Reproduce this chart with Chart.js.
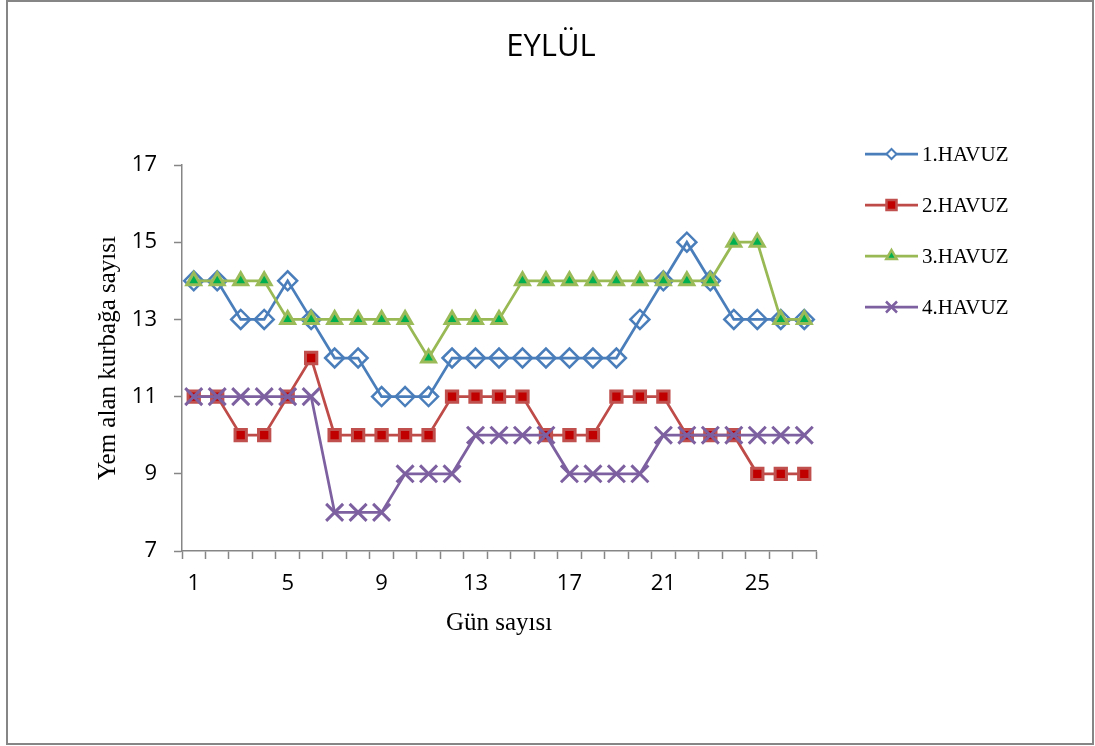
<!DOCTYPE html>
<html>
<head>
<meta charset="utf-8">
<title>EYLÜL</title>
<script src="https://cdn.jsdelivr.net/npm/chart.js@4/dist/chart.umd.min.js"></script>
<style>
  html, body { margin: 0; padding: 0; background: #ffffff; }
  canvas { display: block; }
</style>
</head>
<body>
<canvas id="chart" width="1095" height="746"></canvas>
<script>
// Days of September (category axis)
const days = ['1','2','3','4','5','6','7','8','9','10','11','12','13','14','15','16','17','18','19','20','21','22','23','24','25','26','27'];

// Number of frogs taking feed, per pond
const havuz1 = [14,14,13,13,14,13,12,12,11,11,11,12,12,12,12,12,12,12,12,13,14,15,14,13,13,13,13];
const havuz2 = [11,11,10,10,11,12,10,10,10,10,10,11,11,11,11,10,10,10,11,11,11,10,10,10,9,9,9];
const havuz3 = [14,14,14,14,13,13,13,13,13,13,12,13,13,13,14,14,14,14,14,14,14,14,14,15,15,13,13];
const havuz4 = [11,11,11,11,11,11,8,8,8,9,9,9,10,10,10,10,9,9,9,9,10,10,10,10,10,10,10];

const seriesNames = ['1.HAVUZ', '2.HAVUZ', '3.HAVUZ', '4.HAVUZ'];
const xTickLabels = ['1', '5', '9', '13', '17', '21', '25'];
const yTickValues = [7, 9, 11, 13, 15, 17];

const chartTitle = 'EYLÜL';
const xTitle = 'Gün sayısı';
const yTitle = 'Yem alan kurbağa sayısı';

const AXIS_GRAY = '#868686';
const SERIF = '"Liberation Serif", "Times New Roman", serif';
const SANS = '"Open Sans", "Noto Sans", sans-serif';

// Small marker drawn next to each legend entry
function drawLegendMarker(ctx, ds, x, y) {
  ctx.save();
  ctx.lineWidth = 2;
  ctx.strokeStyle = ds.pointBorderColor;
  ctx.fillStyle = ds.pointBackgroundColor;
  ctx.beginPath();
  if (ds.pointStyle === 'rectRot') {
    const r = 5;
    ctx.moveTo(x - r, y); ctx.lineTo(x, y - r); ctx.lineTo(x + r, y); ctx.lineTo(x, y + r);
    ctx.closePath();
    ctx.fillStyle = '#ffffff';
    ctx.fill(); ctx.stroke();
  } else if (ds.pointStyle === 'rect') {
    const h = 5;
    ctx.rect(x - h, y - h, 2 * h, 2 * h);
    ctx.fill(); ctx.lineWidth = 2.5; ctx.stroke();
  } else if (ds.pointStyle === 'triangle') {
    const r = 6;
    ctx.moveTo(x, y - r);
    ctx.lineTo(x + r * 0.866, y + r * 0.5);
    ctx.lineTo(x - r * 0.866, y + r * 0.5);
    ctx.closePath();
    ctx.fill(); ctx.lineWidth = 2.5; ctx.stroke();
  } else if (ds.pointStyle === 'crossRot') {
    const d = 5.5;
    ctx.moveTo(x - d, y - d); ctx.lineTo(x + d, y + d);
    ctx.moveTo(x + d, y - d); ctx.lineTo(x - d, y + d);
    ctx.lineWidth = 2.5; ctx.stroke();
  }
  ctx.restore();
}

// Frame, title and legend of the chart panel
const panelPlugin = {
  id: 'panel',
  beforeDraw(chart) {
    const ctx = chart.ctx;
    ctx.save();
    ctx.fillStyle = '#ffffff';
    ctx.fillRect(0, 0, chart.width, chart.height);
    ctx.strokeStyle = AXIS_GRAY;
    ctx.lineWidth = 2;
    ctx.strokeRect(7, 1, 1086, 743);
    ctx.restore();
  },
  afterDraw(chart) {
    const ctx = chart.ctx;
    ctx.save();
    // title
    ctx.fillStyle = '#000000';
    ctx.font = '31px ' + SANS;
    ctx.textAlign = 'center';
    ctx.textBaseline = 'alphabetic';
    ctx.fillText(chartTitle, 551, 56);

    // legend
    const rows = [154, 205, 256, 307];
    chart.data.datasets.forEach((ds, i) => {
      const y = rows[i];
      ctx.strokeStyle = ds.borderColor;
      ctx.lineWidth = 2.75;
      ctx.beginPath();
      ctx.moveTo(865, y);
      ctx.lineTo(918, y);
      ctx.stroke();
      drawLegendMarker(ctx, ds, 891.5, y);
      ctx.fillStyle = '#000000';
      ctx.font = '21px ' + SERIF;
      ctx.textAlign = 'left';
      ctx.textBaseline = 'middle';
      ctx.fillText(ds.label, 922, y + 1);
    });
    ctx.restore();
  }
};

const datasets = [
  {
    label: seriesNames[0], data: havuz1,
    borderColor: '#4a7ebb', borderWidth: 2.75,
    pointStyle: 'rectRot', pointRadius: 9.5, pointBorderWidth: 2.5,
    pointBorderColor: '#4a7ebb', pointBackgroundColor: 'rgba(255,255,255,0)',
    order: 4
  },
  {
    label: seriesNames[1], data: havuz2,
    borderColor: '#be4b48', borderWidth: 2.75,
    pointStyle: 'rect', pointRadius: 8, pointBorderWidth: 3,
    pointBorderColor: '#c0504d', pointBackgroundColor: '#c00000',
    order: 3
  },
  {
    label: seriesNames[2], data: havuz3,
    borderColor: '#98b954', borderWidth: 2.75,
    pointStyle: 'triangle', pointRadius: 8, pointBorderWidth: 3,
    pointBorderColor: '#9bbb59', pointBackgroundColor: '#00b050',
    order: 2
  },
  {
    label: seriesNames[3], data: havuz4,
    borderColor: '#7d60a0', borderWidth: 2.75,
    pointStyle: 'crossRot', pointRadius: 12, pointBorderWidth: 3,
    pointBorderColor: '#7d60a0', pointBackgroundColor: '#7d60a0',
    order: 1
  }
];
datasets.forEach(d => { d.fill = false; d.tension = 0; d.pointHoverRadius = d.pointRadius; });

new Chart(document.getElementById('chart'), {
  type: 'line',
  data: { labels: days, datasets },
  options: {
    responsive: false,
    animation: false,
    devicePixelRatio: 1,
    events: [],
    layout: { padding: { left: 89, right: 279, top: 165, bottom: 95 } },
    plugins: {
      legend: { display: false },
      title: { display: false },
      tooltip: { enabled: false }
    },
    scales: {
      x: {
        type: 'category',
        offset: true,
        grid: {
          offset: true,
          drawOnChartArea: false,
          drawTicks: true,
          tickLength: 8,
          tickColor: AXIS_GRAY,
          tickWidth: 1.5
        },
        border: { color: AXIS_GRAY, width: 1.5 },
        ticks: {
          autoSkip: false,
          maxRotation: 0,
          padding: 12,
          color: '#000000',
          font: { family: SANS, size: 22 },
          callback(value) {
            const lbl = this.getLabelForValue(value);
            return xTickLabels.includes(lbl) ? lbl : '';
          }
        },
        title: {
          display: true, text: xTitle, color: '#000000',
          font: { family: SERIF, size: 25 },
          padding: { top: 4, bottom: 13 }
        },
        afterFit(scale) { scale.height = 100; }
      },
      y: {
        min: 7, max: 17,
        grid: {
          drawOnChartArea: false,
          drawTicks: true,
          tickLength: 8,
          tickColor: AXIS_GRAY,
          tickWidth: 1.5
        },
        border: { color: AXIS_GRAY, width: 1.5 },
        afterBuildTicks(scale) { scale.ticks = yTickValues.map(v => ({ value: v })); },
        ticks: {
          padding: 17,
          color: '#000000',
          font: { family: SANS, size: 22 }
        },
        title: {
          display: true, text: yTitle, color: '#000000',
          font: { family: SERIF, size: 25 },
          padding: { top: 4, bottom: 4 }
        },
        afterFit(scale) { scale.width = 93; }
      }
    }
  },
  plugins: [panelPlugin]
});
</script>
</body>
</html>
